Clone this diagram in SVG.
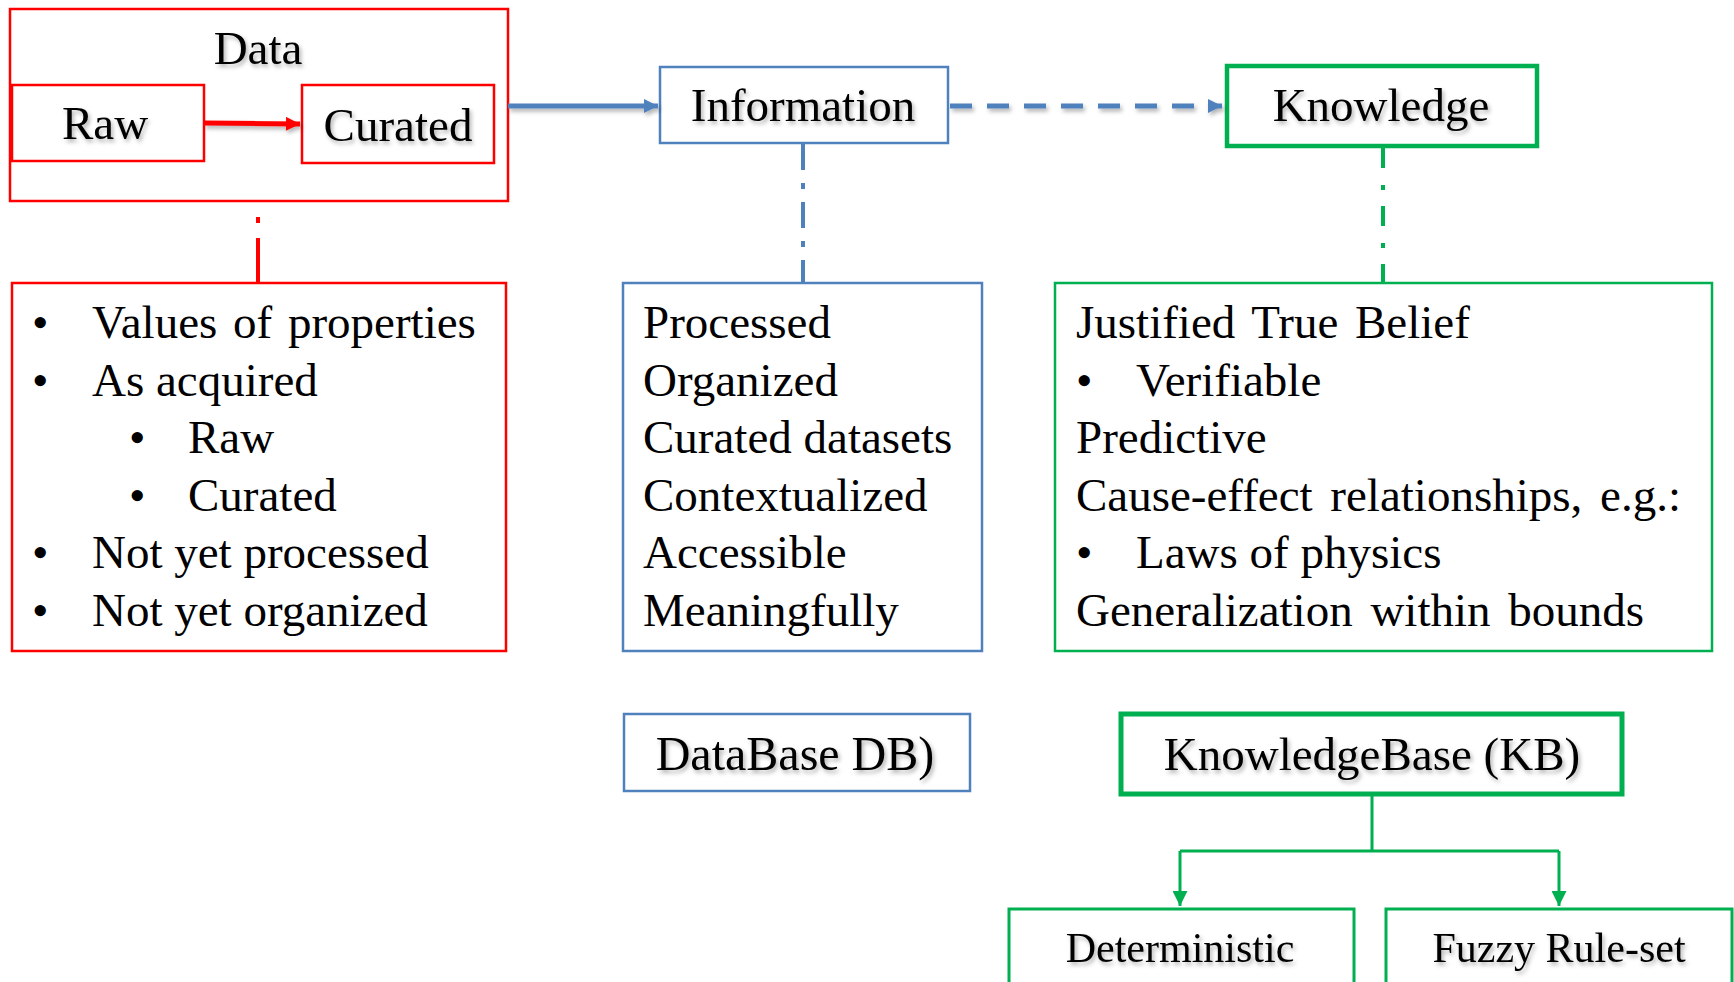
<svg xmlns="http://www.w3.org/2000/svg" width="1734" height="982" viewBox="0 0 1734 982">
<defs>
<style>
text{font-family:"Liberation Serif","Times New Roman",serif;font-size:47px;fill:#000}
.t{text-anchor:middle}
.red{fill:#fff;stroke:#FF0000;stroke-width:2.5}
.blue{fill:#fff;stroke:#4F81BD;stroke-width:2.5}
.grn{fill:#fff;stroke:#00B050;stroke-width:2.5}
.sh{filter:url(#ds)}
.shl{filter:url(#dsl)}
</style>
<filter id="ds" x="-10%" y="-30%" width="130%" height="180%">
<feDropShadow dx="2" dy="3" stdDeviation="2" flood-color="#000" flood-opacity="0.3"/>
</filter>
<filter id="dsl" filterUnits="userSpaceOnUse" x="0" y="0" width="1734" height="982">
<feDropShadow dx="2" dy="3" stdDeviation="2" flood-color="#000" flood-opacity="0.3"/>
</filter>
<marker id="ar" viewBox="0 0 10 10" refX="10" refY="5" markerWidth="3.2" markerHeight="2.8" orient="auto" markerUnits="strokeWidth"><path d="M0,0L10,5L0,10z" fill="#FF0000"/></marker>
<marker id="ab" viewBox="0 0 10 10" refX="10" refY="5" markerWidth="3.2" markerHeight="2.8" orient="auto" markerUnits="strokeWidth"><path d="M0,0L10,5L0,10z" fill="#4F81BD"/></marker>
<marker id="ag" viewBox="0 0 10 10" refX="10" refY="5" markerWidth="5" markerHeight="5" orient="auto" markerUnits="strokeWidth"><path d="M0,0L10,5L0,10z" fill="#00B050"/></marker>
</defs>
<rect width="1734" height="982" fill="#fff"/>

<g id="data">
<rect x="10" y="9" width="498" height="192" class="red"/>
<text x="258" y="64" class="t sh">Data</text>
</g>
<g id="raw">
<rect x="12" y="85" width="192" height="76" class="red"/>
<text x="105" y="139" class="t sh">Raw</text>
</g>
<g id="curated">
<rect x="302" y="85" width="192" height="78" class="red"/>
<text x="398" y="141" class="t sh">Curated</text>
</g>

<g id="information">
<rect x="660" y="67" width="288" height="76" class="blue"/>
<text x="803" y="121" class="t sh">Information</text>
</g>

<g id="knowledge">
<rect x="1227" y="66" width="310" height="80" class="grn" style="stroke-width:4.5"/>
<text x="1381" y="121" class="t sh">Knowledge</text>
</g>

<g id="data-list">
<rect x="12" y="283" width="494" height="368" class="red"/>
<text x="32" y="338">•</text><text x="92" y="338" word-spacing="4">Values of properties</text>
<text x="32" y="396">•</text><text x="92" y="396">As acquired</text>
<text x="129" y="453">•</text><text x="188" y="453">Raw</text>
<text x="129" y="511">•</text><text x="188" y="511">Curated</text>
<text x="32" y="568">•</text><text x="92" y="568">Not yet processed</text>
<text x="32" y="626">•</text><text x="92" y="626">Not yet organized</text>
</g>

<g id="info-list">
<rect x="623" y="283" width="359" height="368" class="blue"/>
<text x="643" y="338">Processed</text>
<text x="643" y="396">Organized</text>
<text x="643" y="453">Curated datasets</text>
<text x="643" y="511">Contextualized</text>
<text x="643" y="568">Accessible</text>
<text x="643" y="626">Meaningfully</text>
</g>

<g id="knowledge-list">
<rect x="1055" y="283" width="657" height="368" class="grn"/>
<text x="1076" y="338" word-spacing="5">Justified True Belief</text>
<text x="1076" y="396">•</text><text x="1136" y="396">Verifiable</text>
<text x="1076" y="453">Predictive</text>
<text x="1076" y="511" word-spacing="6">Cause-effect relationships, e.g.:</text>
<text x="1076" y="568">•</text><text x="1136" y="568">Laws of physics</text>
<text x="1076" y="626" word-spacing="6">Generalization within bounds</text>
</g>

<g id="database">
<rect x="624" y="714" width="346" height="77" class="blue"/>
<text x="795" y="770" class="t sh" style="font-size:48px">DataBase DB)</text>
</g>

<g id="knowledgebase">
<rect x="1121" y="714" width="501" height="80" class="grn" style="stroke-width:5"/>
<text x="1372" y="770" class="t sh">KnowledgeBase (KB)</text>
</g>

<g id="deterministic">
<rect x="1009" y="909" width="345" height="90" class="grn" style="stroke-width:3"/>
<text x="1180" y="962" class="t sh" style="font-size:42px">Deterministic</text>
</g>

<g id="fuzzy">
<rect x="1386" y="909" width="346" height="90" class="grn" style="stroke-width:3"/>
<text x="1559" y="962" class="t sh" style="font-size:42px">Fuzzy Rule-set</text>
</g>

<g id="connectors" fill="none">
<path d="M204,123L300,124" stroke="#FF0000" stroke-width="5" marker-end="url(#ar)" class="shl"/>
<path d="M258,283L258,201" stroke="#FF0000" stroke-width="4" stroke-dasharray="45 15 6 16"/>
<path d="M508,106L658,106" stroke="#4F81BD" stroke-width="5" marker-end="url(#ab)" class="shl"/>
<path d="M950,106L1222,106" stroke="#4F81BD" stroke-width="5" stroke-dasharray="22 15" marker-end="url(#ab)" class="shl"/>
<path d="M803,144L803,282" stroke="#4F81BD" stroke-width="4" stroke-dasharray="26 13 6 13"/>
<path d="M1383,148L1383,282" stroke="#00B050" stroke-width="4" stroke-dasharray="20 17 5 16"/>
<path d="M1372,796L1372,851M1180,851L1559,851" stroke="#00B050" stroke-width="3"/>
<path d="M1180,851L1180,906" stroke="#00B050" stroke-width="3" marker-end="url(#ag)"/>
<path d="M1559,851L1559,906" stroke="#00B050" stroke-width="3" marker-end="url(#ag)"/>
</g>
</svg>
